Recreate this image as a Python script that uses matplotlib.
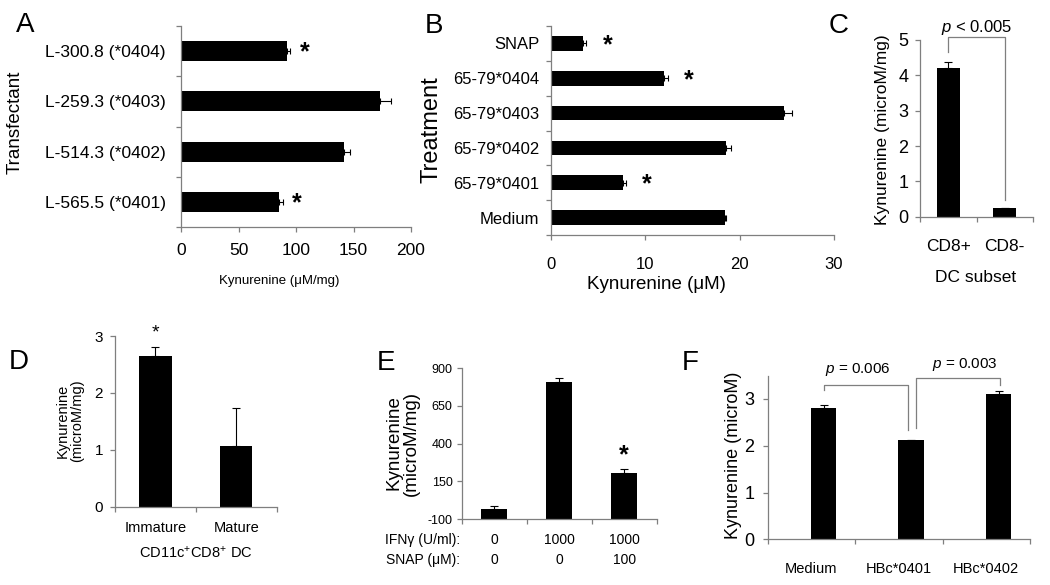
import numpy as np
import matplotlib
matplotlib.use("Agg")
import matplotlib.pyplot as plt

plt.rcParams["font.family"] = ["Liberation Sans", "DejaVu Sans"]
plt.rcParams["mathtext.fontset"] = "custom"
plt.rcParams["mathtext.rm"] = "Liberation Sans"
plt.rcParams["mathtext.it"] = "Liberation Sans:italic"
plt.rcParams["axes.unicode_minus"] = False

# ---- data ----
A_labels = ["L-300.8 (*0404)", "L-259.3 (*0403)", "L-514.3 (*0402)", "L-565.5 (*0401)"]
A_vals = [92, 173, 142, 85]
A_err = [2.5, 10, 5, 4]
A_star = [True, False, False, True]

B_labels = ["SNAP", "65-79*0404", "65-79*0403", "65-79*0402", "65-79*0401", "Medium"]
B_vals = [3.4, 12.0, 24.7, 18.5, 7.6, 18.4]
B_err = [0.35, 0.45, 0.9, 0.6, 0.4, 0.2]
B_star = [True, True, False, False, True, False]

C_labels = ["CD8+", "CD8-"]
C_vals = [4.2, 0.25]
C_err = [0.19, 0.0]

D_labels = ["Immature", "Mature"]
D_vals = [2.65, 1.06]
D_err = [0.15, 0.68]

E_ifn = ["0", "1000", "1000"]
E_snap = ["0", "0", "100"]
E_vals = [-35, 807, 203]
E_err = [20, 27, 29]

F_labels = ["Medium", "HBc*0401", "HBc*0402"]
F_vals = [2.8, 2.12, 3.1]
F_err = [0.08, 0.0, 0.06]

W, H = 1050, 585
fig = plt.figure(figsize=(W / 100, H / 100), dpi=100)
GRAY = "#7f7f7f"


def px_axes(l, t, r, b):
    return fig.add_axes([l / W, 1 - b / H, (r - l) / W, (b - t) / H])


def ftext(x, y, s, **kw):
    kw.setdefault("ha", "center")
    kw.setdefault("va", "center")
    return fig.text(x / W, 1 - y / H, s, **kw)


def style(ax):
    for s in ["top", "right"]:
        ax.spines[s].set_visible(False)
    for s in ["left", "bottom"]:
        ax.spines[s].set_color(GRAY)
        ax.spines[s].set_linewidth(0.9)
    ax.tick_params(which="major", direction="out", length=3.5, width=0.9, color=GRAY)
    ax.tick_params(which="minor", length=0)


def cat_ticks(axis, labels, size, pad):
    n = len(labels)
    axis.set_ticks(np.arange(n + 1) - 0.5)
    axis.set_ticklabels([])
    axis.set_ticks(np.arange(n), minor=True)
    axis.set_ticklabels(labels, minor=True, fontsize=size)
    axis.axes.tick_params(axis=axis.axis_name, which="minor", pad=pad)


# ---- A ----
axA = px_axes(181, 26, 411, 227)
style(axA)
y = np.arange(len(A_vals))
axA.barh(y, A_vals, height=0.4, color="black")
axA.errorbar(A_vals, y, xerr=[np.zeros(len(A_err)), A_err], fmt="none",
             ecolor="black", elinewidth=0.8, capsize=2.5, capthick=0.8)
axA.set_ylim(len(A_vals) - 0.5, -0.5)
axA.set_xlim(0, 200)
axA.set_xticks([0, 50, 100, 150, 200])
axA.tick_params(axis="x", labelsize=12.5, pad=8)
cat_ticks(axA.yaxis, A_labels, 12.5, 11)
for i, s in enumerate(A_star):
    if s:
        axA.text(A_vals[i] + 16, i + 0.02, "*", fontsize=18, fontweight="bold",
                 ha="center", va="center")
ftext(279, 281, "Kynurenine (\u03bcM/mg)", fontsize=9.5)
ftext(15, 122, "Transfectant", fontsize=13.5, rotation=90)
ftext(25, 25, "A", fontsize=20)

# ---- B ----
axB = px_axes(551, 26, 834, 235)
style(axB)
y = np.arange(len(B_vals))
axB.barh(y, B_vals, height=0.42, color="black")
axB.errorbar(B_vals, y, xerr=[np.zeros(len(B_err)), B_err], fmt="none",
             ecolor="black", elinewidth=0.8, capsize=2.5, capthick=0.8)
axB.set_ylim(len(B_vals) - 0.5, -0.5)
axB.set_xlim(0, 30)
axB.set_xticks([0, 10, 20, 30])
axB.tick_params(axis="x", labelsize=12, pad=12)
cat_ticks(axB.yaxis, B_labels, 12, 8.5)
for i, s in enumerate(B_star):
    if s:
        axB.text(B_vals[i] + 2.6, i + 0.05, "*", fontsize=18, fontweight="bold",
                 ha="center", va="center")
ftext(656, 284, "Kynurenine (\u03bcM)", fontsize=13.5)
ftext(432, 130, "Treatment", fontsize=17, rotation=90)
ftext(434, 26, "B", fontsize=20)

# ---- C ----
axC = px_axes(920, 40, 1033, 216.7)
style(axC)
x = np.arange(len(C_vals))
axC.bar(x, C_vals, width=0.41, color="black")
axC.errorbar(x, C_vals, yerr=[np.zeros(len(C_err)), C_err], fmt="none",
             ecolor="black", elinewidth=0.8, capsize=3, capthick=0.8)
axC.set_ylim(0, 5)
axC.set_xlim(-0.5, 1.5)
axC.set_yticks([0, 1, 2, 3, 4, 5])
axC.tick_params(axis="y", labelsize=13, pad=5)
cat_ticks(axC.xaxis, C_labels, 12.5, 16)
axC.plot([0, 0, 1, 1], [4.67, 5.08, 5.08, 0.47], color=GRAY, lw=0.9, clip_on=False)
axC.text(0.5, 5.35, r"$p$ < 0.005", fontsize=12, ha="center", va="center")
ftext(976, 277, "DC subset", fontsize=12.5)
ftext(882, 130, "Kynurenine (microM/mg)", fontsize=12.5, rotation=90)
ftext(839, 26, "C", fontsize=20)

# ---- D ----
axD = px_axes(115, 336, 276.7, 506.7)
style(axD)
x = np.arange(len(D_vals))
axD.bar(x, D_vals, width=0.4, color="black")
axD.errorbar(x, D_vals, yerr=[np.zeros(len(D_err)), D_err], fmt="none",
             ecolor="black", elinewidth=0.8, capsize=3, capthick=0.8)
axD.set_ylim(0, 3)
axD.set_xlim(-0.5, 1.5)
axD.set_yticks([0, 1, 2, 3])
axD.tick_params(axis="y", labelsize=11, pad=5)
cat_ticks(axD.xaxis, D_labels, 10.5, 10)
axD.text(0, 3.05, "*", fontsize=14, ha="center", va="center")
ftext(196, 553, "CD11c$^{+}$CD8$^{+}$ DC", fontsize=10.5)
ftext(70, 421, "Kynurenine\n(microM/mg)", fontsize=10.5, rotation=90, linespacing=1.0)
ftext(19, 362, "D", fontsize=20)

# ---- E ----
axE = px_axes(461.7, 368.3, 656.7, 519)
style(axE)
x = np.arange(len(E_vals))
axE.bar(x, np.array(E_vals) + 100, bottom=-100, width=0.4, color="black")
axE.errorbar(x, E_vals, yerr=[np.zeros(len(E_err)), E_err], fmt="none",
             ecolor="black", elinewidth=0.8, capsize=3, capthick=0.8)
axE.set_ylim(-100, 900)
axE.set_xlim(-0.5, 2.5)
axE.set_yticks([-100, 150, 400, 650, 900])
axE.tick_params(axis="y", labelsize=9, pad=3)
axE.set_xticks(np.arange(len(E_vals) + 1) - 0.5)
axE.set_xticklabels([])
for i in range(len(E_vals)):
    ftext(494.2 + 65 * i, 540, E_ifn[i], fontsize=10)
    ftext(494.2 + 65 * i, 560, E_snap[i], fontsize=10)
ftext(460, 540, "IFN\u03b3 (U/ml):", fontsize=10, ha="right")
ftext(460, 560, "SNAP (\u03bcM):", fontsize=10, ha="right")
axE.text(2, 325, "*", fontsize=18, fontweight="bold", ha="center", va="center")
ftext(403, 443, "Kynurenine\n(microM/mg)", fontsize=13.5, rotation=90, linespacing=1.0)
ftext(386, 363, "E", fontsize=20)

# ---- F ----
axF = px_axes(767.7, 376, 1030, 539.3)
style(axF)
x = np.arange(len(F_vals)) + 0.14
axF.bar(x, F_vals, width=0.29, color="black")
axF.errorbar(x, F_vals, yerr=[np.zeros(len(F_err)), F_err], fmt="none",
             ecolor="black", elinewidth=0.8, capsize=3, capthick=0.8)
axF.set_ylim(0, 3.49)
axF.set_xlim(-0.5, 2.5)
axF.set_yticks([0, 1, 2, 3])
axF.tick_params(axis="y", labelsize=13, pad=6)
cat_ticks(axF.xaxis, F_labels, 10.5, 16)
axF.plot([0.14, 0.14, 1.1, 1.1], [3.19, 3.3, 3.3, 2.34], color=GRAY, lw=0.9, clip_on=False)
axF.plot([1.2, 1.2, 2.16, 2.16], [2.37, 3.44, 3.44, 3.3], color=GRAY, lw=0.9, clip_on=False)
axF.text(0.53, 3.62, r"$p$ = 0.006", fontsize=11, ha="center", va="center")
axF.text(1.76, 3.73, r"$p$ = 0.003", fontsize=11, ha="center", va="center")
ftext(733, 455, "Kynurenine (microM)", fontsize=13, rotation=90)
ftext(690, 363, "F", fontsize=20)

fig.savefig("out.png", dpi=100)
